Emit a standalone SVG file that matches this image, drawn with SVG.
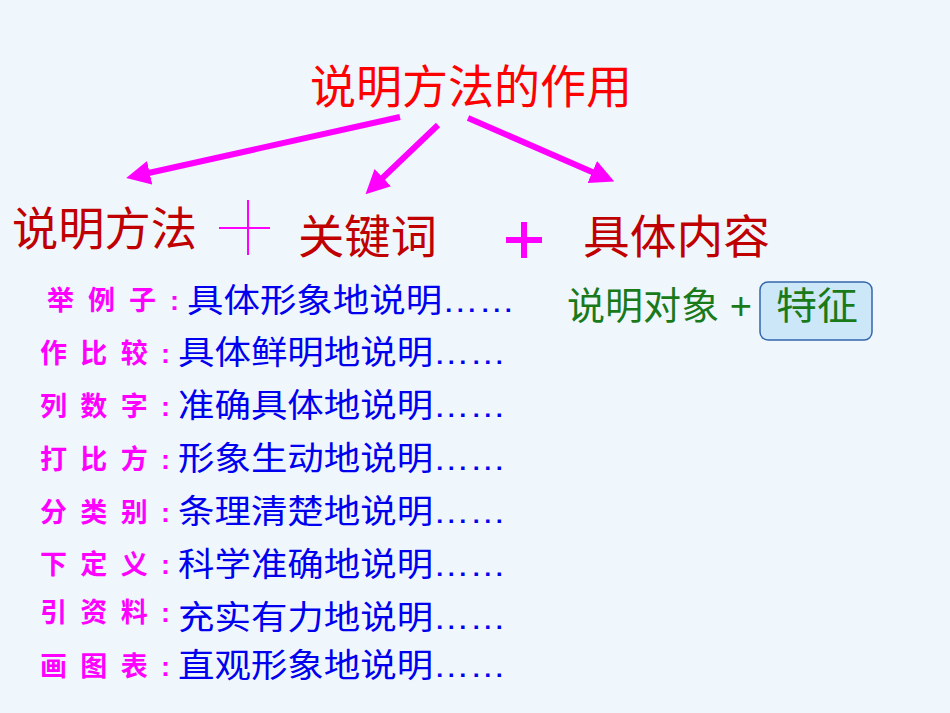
<svg xmlns="http://www.w3.org/2000/svg" width="950" height="713" viewBox="0 0 950 713">
<defs>
<style>
.cn{font-family:"Liberation Sans","Noto Sans CJK SC",sans-serif}
.h{font-size:46px;fill:#C00000}
.lb{font-size:27px;fill:#FF00FF;font-weight:bold}
.tx{font-size:33px;fill:#0000EE}
.ar{stroke:#FF00FF;stroke-width:6;fill:none;marker-end:url(#m)}
</style>
<marker id="m" markerWidth="4" markerHeight="4" refX="2.5" refY="2" orient="auto"><path d="M0,0 L4,2 L0,4 Z" fill="#FF00FF"/></marker>
</defs>
<rect width="950" height="713" fill="#EFF7FD"/>
<g id="title"><text class="cn" x="310" y="103" font-size="46" fill="#FF0000" textLength="322" lengthAdjust="spacingAndGlyphs">说明方法的作用</text></g>
<g id="connectors">
<line class="ar" x1="400" y1="117" x2="135" y2="176"/>
<line class="ar" x1="438" y1="125" x2="372" y2="188"/>
<line class="ar" x1="468" y1="118" x2="606" y2="178"/>
</g>
<g id="n1"><text class="cn h" x="12" y="245" textLength="185" lengthAdjust="spacingAndGlyphs">说明方法</text></g>
<g id="plus1"><line x1="248" y1="200" x2="248" y2="255" stroke="#FF00FF" stroke-width="2"/><line x1="219" y1="228" x2="270" y2="228" stroke="#FF00FF" stroke-width="2"/></g>
<g id="n2"><text class="cn h" x="298" y="253" textLength="139" lengthAdjust="spacingAndGlyphs">关键词</text></g>
<g id="plus2"><line x1="524" y1="222" x2="524" y2="258" stroke="#FF00FF" stroke-width="6"/><line x1="506" y1="240" x2="542" y2="240" stroke="#FF00FF" stroke-width="6"/></g>
<g id="n3"><text class="cn h" x="583" y="253" textLength="187" lengthAdjust="spacingAndGlyphs">具体内容</text></g>
<g id="n4"><text class="cn" x="567" y="319" font-size="38" fill="#1A7A1A" textLength="185" lengthAdjust="spacingAndGlyphs">说明对象 +</text>
<rect x="760" y="282" width="112" height="58" rx="8" fill="#CCE8F8" stroke="#3366AA" stroke-width="1.5"/>
<text class="cn" x="776" y="319" font-size="38" fill="#1A7A1A" textLength="82" lengthAdjust="spacingAndGlyphs">特征</text></g>
<g id="list">
<text class="cn lb" x="47" y="310" textLength="132" lengthAdjust="spacing">举例子:</text><text class="cn tx" x="187" y="312" textLength="328" lengthAdjust="spacingAndGlyphs">具体形象地说明……</text>
<text class="cn lb" x="40" y="363" textLength="130" lengthAdjust="spacing">作比较:</text><text class="cn tx" x="178" y="364" textLength="328" lengthAdjust="spacingAndGlyphs">具体鲜明地说明……</text>
<text class="cn lb" x="40" y="416" textLength="130" lengthAdjust="spacing">列数字:</text><text class="cn tx" x="178" y="417" textLength="328" lengthAdjust="spacingAndGlyphs">准确具体地说明……</text>
<text class="cn lb" x="40" y="469" textLength="130" lengthAdjust="spacing">打比方:</text><text class="cn tx" x="178" y="470" textLength="328" lengthAdjust="spacingAndGlyphs">形象生动地说明……</text>
<text class="cn lb" x="40" y="522" textLength="130" lengthAdjust="spacing">分类别:</text><text class="cn tx" x="178" y="523" textLength="328" lengthAdjust="spacingAndGlyphs">条理清楚地说明……</text>
<text class="cn lb" x="40" y="574" textLength="130" lengthAdjust="spacing">下定义:</text><text class="cn tx" x="178" y="576" textLength="328" lengthAdjust="spacingAndGlyphs">科学准确地说明……</text>
<text class="cn lb" x="40" y="622" textLength="130" lengthAdjust="spacing">引资料:</text><text class="cn tx" x="178" y="629" textLength="328" lengthAdjust="spacingAndGlyphs">充实有力地说明……</text>
<text class="cn lb" x="40" y="676" textLength="130" lengthAdjust="spacing">画图表:</text><text class="cn tx" x="178" y="677" textLength="328" lengthAdjust="spacingAndGlyphs">直观形象地说明……</text>
</g>
</svg>
